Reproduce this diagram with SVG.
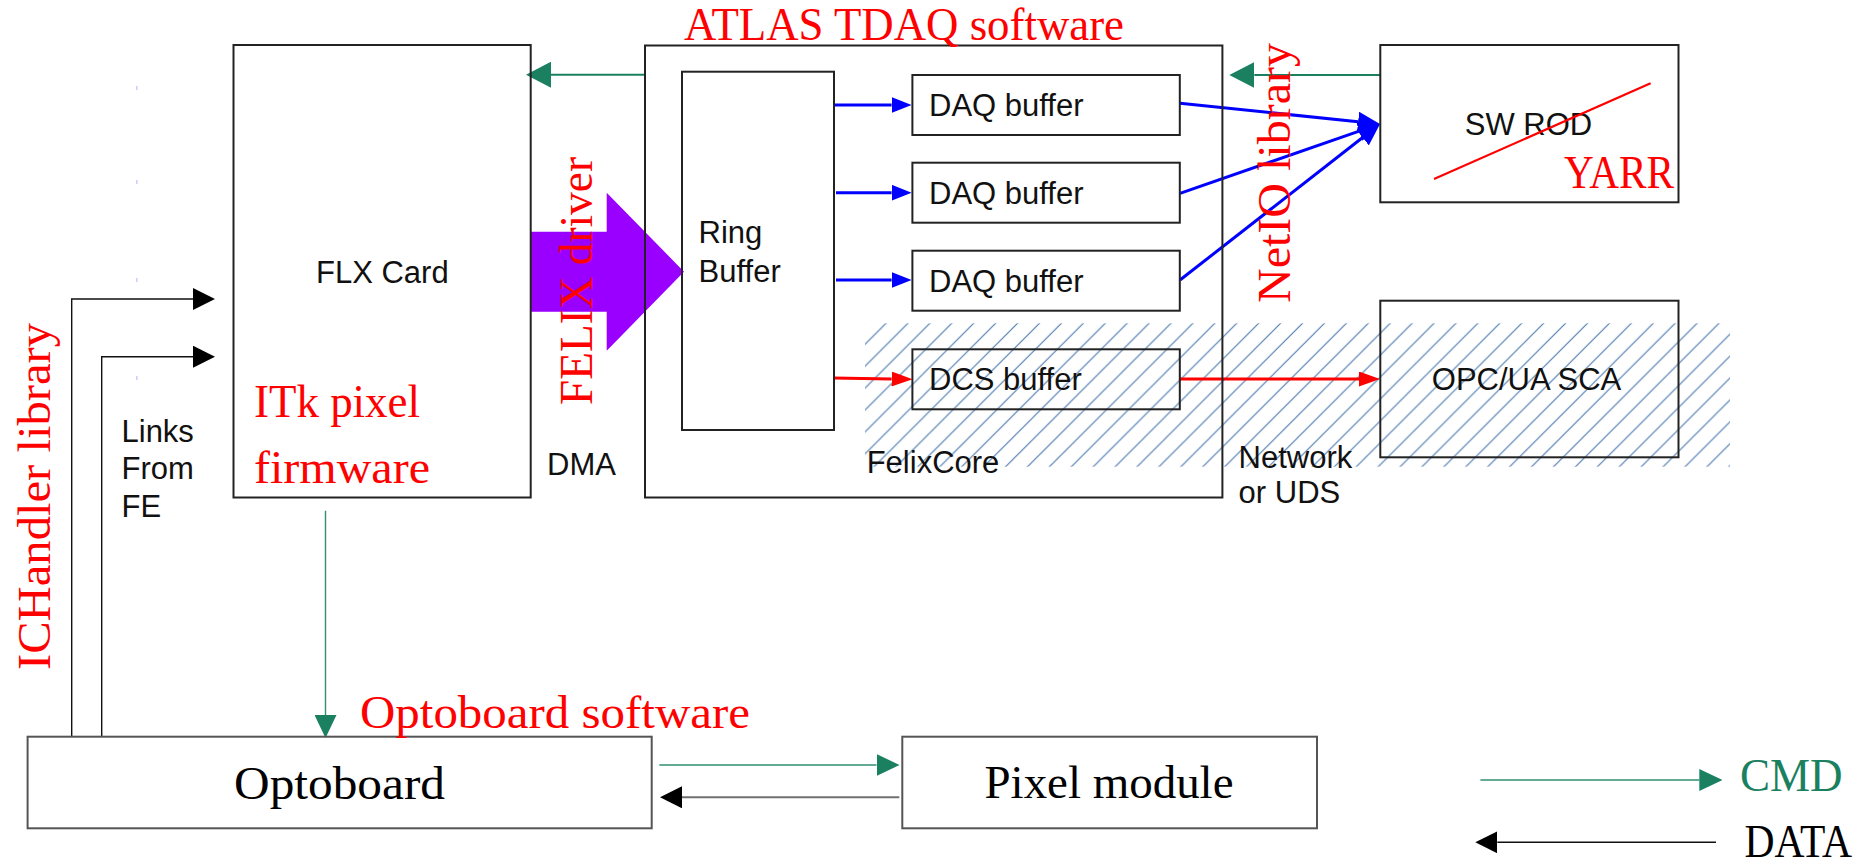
<svg xmlns="http://www.w3.org/2000/svg" width="1873" height="864" viewBox="0 0 1873 864">
<style>
.box{fill:none;stroke:#222;stroke-width:2}
.box2{fill:none;stroke:#555;stroke-width:2}
.sans{font-family:"Liberation Sans",Arial,sans-serif;font-size:31px;fill:#111}
.ser{font-family:"Liberation Serif","Times New Roman",serif;font-size:46px}
.red{fill:#ff0000}
.blk{fill:#000}
.grn{fill:#1a8060}
.lblue{stroke:#0000ff;stroke-width:3;fill:none}
.lred{stroke:#ff0000;stroke-width:3;fill:none}
.lgreen{stroke:#1a8060;stroke-width:2;fill:none}
.lgreen1{stroke:#2f8f70;stroke-width:1.4;fill:none}
.lblack{stroke:#111;stroke-width:1.4;fill:none}
.lgray{stroke:#707070;stroke-width:2;fill:none}
</style>
<defs>
<pattern id="hatch" patternUnits="userSpaceOnUse" x="3.7" y="0" width="21.92" height="21.92">
<path d="M-2,2 L2,-2 M0,21.92 L21.92,0 M19.92,23.92 L23.92,19.92" stroke="#3d6fa8" stroke-width="1"/>
</pattern>
<marker id="mBlue" markerUnits="userSpaceOnUse" viewBox="0 0 20 16" refX="0" refY="8" markerWidth="20" markerHeight="16" orient="auto"><path d="M0,0 L20,8 L0,16 z" fill="#0000ff"/></marker>
<marker id="mBlueBig" markerUnits="userSpaceOnUse" viewBox="0 0 22 20" refX="0" refY="10" markerWidth="22" markerHeight="20" orient="auto"><path d="M0,0 L22,10 L0,20 z" fill="#0000ff"/></marker>
<marker id="mRed" markerUnits="userSpaceOnUse" viewBox="0 0 21 15" refX="0" refY="7.5" markerWidth="21" markerHeight="15" orient="auto"><path d="M0,0 L21,7.5 L0,15 z" fill="#ff0000"/></marker>
<marker id="mGreen" markerUnits="userSpaceOnUse" viewBox="0 0 25 26" refX="0" refY="13" markerWidth="25" markerHeight="26" orient="auto"><path d="M0,0 L25,13 L0,26 z" fill="#1a8060"/></marker>
<marker id="mGreenSm" markerUnits="userSpaceOnUse" viewBox="0 0 23 22" refX="0" refY="11" markerWidth="23" markerHeight="22" orient="auto"><path d="M0,0 L23,11 L0,22 z" fill="#1a8060"/></marker>
<marker id="mBlack" markerUnits="userSpaceOnUse" viewBox="0 0 22 22" refX="0" refY="11" markerWidth="22" markerHeight="22" orient="auto"><path d="M0,0 L22,11 L0,22 z" fill="#000"/></marker>
</defs>
<rect width="1873" height="864" fill="#fff"/>

<!-- hatched DCS region -->
<rect id="dcs-hatch" x="865" y="323.3" width="865" height="143.4" fill="url(#hatch)"/>

<!-- faint marks -->
<g fill="#dcc8ff">
<rect x="136" y="86" width="1.6" height="4"/>
<rect x="136" y="180" width="1.6" height="4"/>
<rect x="136" y="278" width="1.6" height="4"/>
<rect x="136" y="376" width="1.6" height="4"/>
</g>

<g id="connectors">
<polygon id="dma-arrow" points="531,231.7 606.7,231.7 606.7,192.7 684,271.7 606.7,350.7 606.7,311.7 531,311.7" fill="#9900ff"/>
<line class="lgreen" x1="645" y1="74.7" x2="551" y2="74.7" marker-end="url(#mGreen)"/>
<line class="lgreen" x1="1380" y1="75" x2="1254.3" y2="75" marker-end="url(#mGreen)"/>
<line class="lblue" x1="834" y1="105" x2="891.6" y2="105" marker-end="url(#mBlue)"/>
<line class="lblue" x1="836" y1="192.7" x2="891.6" y2="192.7" marker-end="url(#mBlue)"/>
<line class="lblue" x1="836" y1="280" x2="891.6" y2="280" marker-end="url(#mBlue)"/>
<line class="lred" x1="833" y1="378" x2="891.6" y2="379" marker-end="url(#mRed)"/>
<line class="lblue" x1="1180" y1="103.3" x2="1358.1" y2="121.74" marker-end="url(#mBlueBig)"/>
<line class="lblue" x1="1180" y1="193.3" x2="1359.2" y2="131.2" marker-end="url(#mBlueBig)"/>
<line class="lblue" x1="1180" y1="280" x2="1362.65" y2="137.53" marker-end="url(#mBlueBig)"/>
<line class="lred" x1="1180" y1="379" x2="1359" y2="379" marker-end="url(#mRed)"/>
<line class="lgreen1" x1="325.5" y1="510.7" x2="325.5" y2="715" marker-end="url(#mGreenSm)"/>
<path class="lblack" d="M71.7,736.7 V299 H193" marker-end="url(#mBlack)"/>
<path class="lblack" d="M101.7,736.7 V356.7 H193" marker-end="url(#mBlack)"/>
<line class="lgreen1" x1="659.3" y1="765" x2="876.5" y2="765" marker-end="url(#mGreenSm)"/>
<line class="lgray" x1="899.3" y1="797.3" x2="682" y2="797.3" marker-end="url(#mBlack)"/>
<line class="lgreen1" x1="1480.4" y1="780" x2="1699.3" y2="780" marker-end="url(#mGreenSm)"/>
<line class="lblack" x1="1716" y1="842.3" x2="1497.3" y2="842.3" marker-end="url(#mBlack)"/>
</g>

<g id="flx-card">
<rect class="box" x="233.5" y="45" width="297.2" height="452.5"/>
<text class="sans" x="316" y="283">FLX Card</text>
</g>
<g id="felixcore">
<rect class="box" x="645" y="45.5" width="577.4" height="452"/>
<text class="sans" x="866.7" y="473.3">FelixCore</text>
</g>
<g id="ring-buffer">
<rect class="box" x="682" y="71.7" width="152" height="358.3"/>
<text class="sans" x="698.6" y="243">Ring</text>
<text class="sans" x="698.6" y="281.7">Buffer</text>
</g>
<g id="daq-buffer-1">
<rect class="box" x="912.4" y="75" width="267.4" height="60"/>
<text class="sans" x="929" y="116">DAQ buffer</text>
</g>
<g id="daq-buffer-2">
<rect class="box" x="912.4" y="162.7" width="267.4" height="60"/>
<text class="sans" x="929" y="204">DAQ buffer</text>
</g>
<g id="daq-buffer-3">
<rect class="box" x="912.4" y="250.7" width="267.4" height="60"/>
<text class="sans" x="929" y="292">DAQ buffer</text>
</g>
<g id="dcs-buffer">
<rect class="box" x="912.4" y="349.3" width="267.4" height="60"/>
<text class="sans" x="929" y="390">DCS buffer</text>
</g>
<g id="sw-rod">
<rect class="box" x="1380.3" y="45" width="298.2" height="157.3"/>
<text class="sans" x="1464.8" y="135">SW ROD</text>
<line x1="1434" y1="179" x2="1650.6" y2="83.3" stroke="#ff0000" stroke-width="2.2"/>
<text class="ser red" x="1564" y="188.3" font-size="44" textLength="110" lengthAdjust="spacingAndGlyphs">YARR</text>
</g>
<g id="opc-ua-sca">
<rect class="box" x="1380.3" y="300.7" width="298.2" height="156.6"/>
<text class="sans" x="1431.8" y="390">OPC/UA SCA</text>
</g>
<g id="optoboard">
<rect class="box2" x="27.6" y="736.7" width="624.1" height="91.6"/>
<text class="ser blk" x="234" y="799" textLength="211" lengthAdjust="spacingAndGlyphs">Optoboard</text>
</g>
<g id="pixel-module">
<rect class="box2" x="902.3" y="736.7" width="414.7" height="91.6"/>
<text class="ser blk" x="984.5" y="798" textLength="249" lengthAdjust="spacingAndGlyphs">Pixel module</text>
</g>

<g id="labels">
<text class="sans" x="121.5" y="441.7">Links</text>
<text class="sans" x="121.5" y="479">From</text>
<text class="sans" x="121.5" y="516.7">FE</text>
<text class="sans" x="547" y="475">DMA</text>
<text class="sans" x="1238.6" y="468.3">Network</text>
<text class="sans" x="1238.6" y="503.3">or UDS</text>
<text class="ser red" x="684" y="40" font-size="45" textLength="440" lengthAdjust="spacingAndGlyphs">ATLAS TDAQ software</text>
<text class="ser red" transform="translate(592,405) rotate(-90)" font-size="46" textLength="248" lengthAdjust="spacingAndGlyphs">FELIX driver</text>
<text class="ser red" transform="translate(1290,303) rotate(-90)" font-size="48" textLength="260" lengthAdjust="spacingAndGlyphs">NetIO library</text>
<text class="ser red" transform="translate(50,670) rotate(-90)" font-size="47" textLength="347" lengthAdjust="spacingAndGlyphs">ICHandler library</text>
<text class="ser red" x="254" y="417" font-size="45" textLength="166" lengthAdjust="spacingAndGlyphs">ITk pixel</text>
<text class="ser red" x="254" y="483" font-size="45" textLength="176" lengthAdjust="spacingAndGlyphs">firmware</text>
<text class="ser red" x="360" y="728.3" font-size="46" textLength="390" lengthAdjust="spacingAndGlyphs">Optoboard software</text>
<text class="ser grn" x="1740" y="790.7" font-size="45" textLength="102.6" lengthAdjust="spacingAndGlyphs">CMD</text>
<text class="ser blk" x="1744.5" y="856.7" font-size="43" textLength="107.5" lengthAdjust="spacingAndGlyphs">DATA</text>
</g>
</svg>
